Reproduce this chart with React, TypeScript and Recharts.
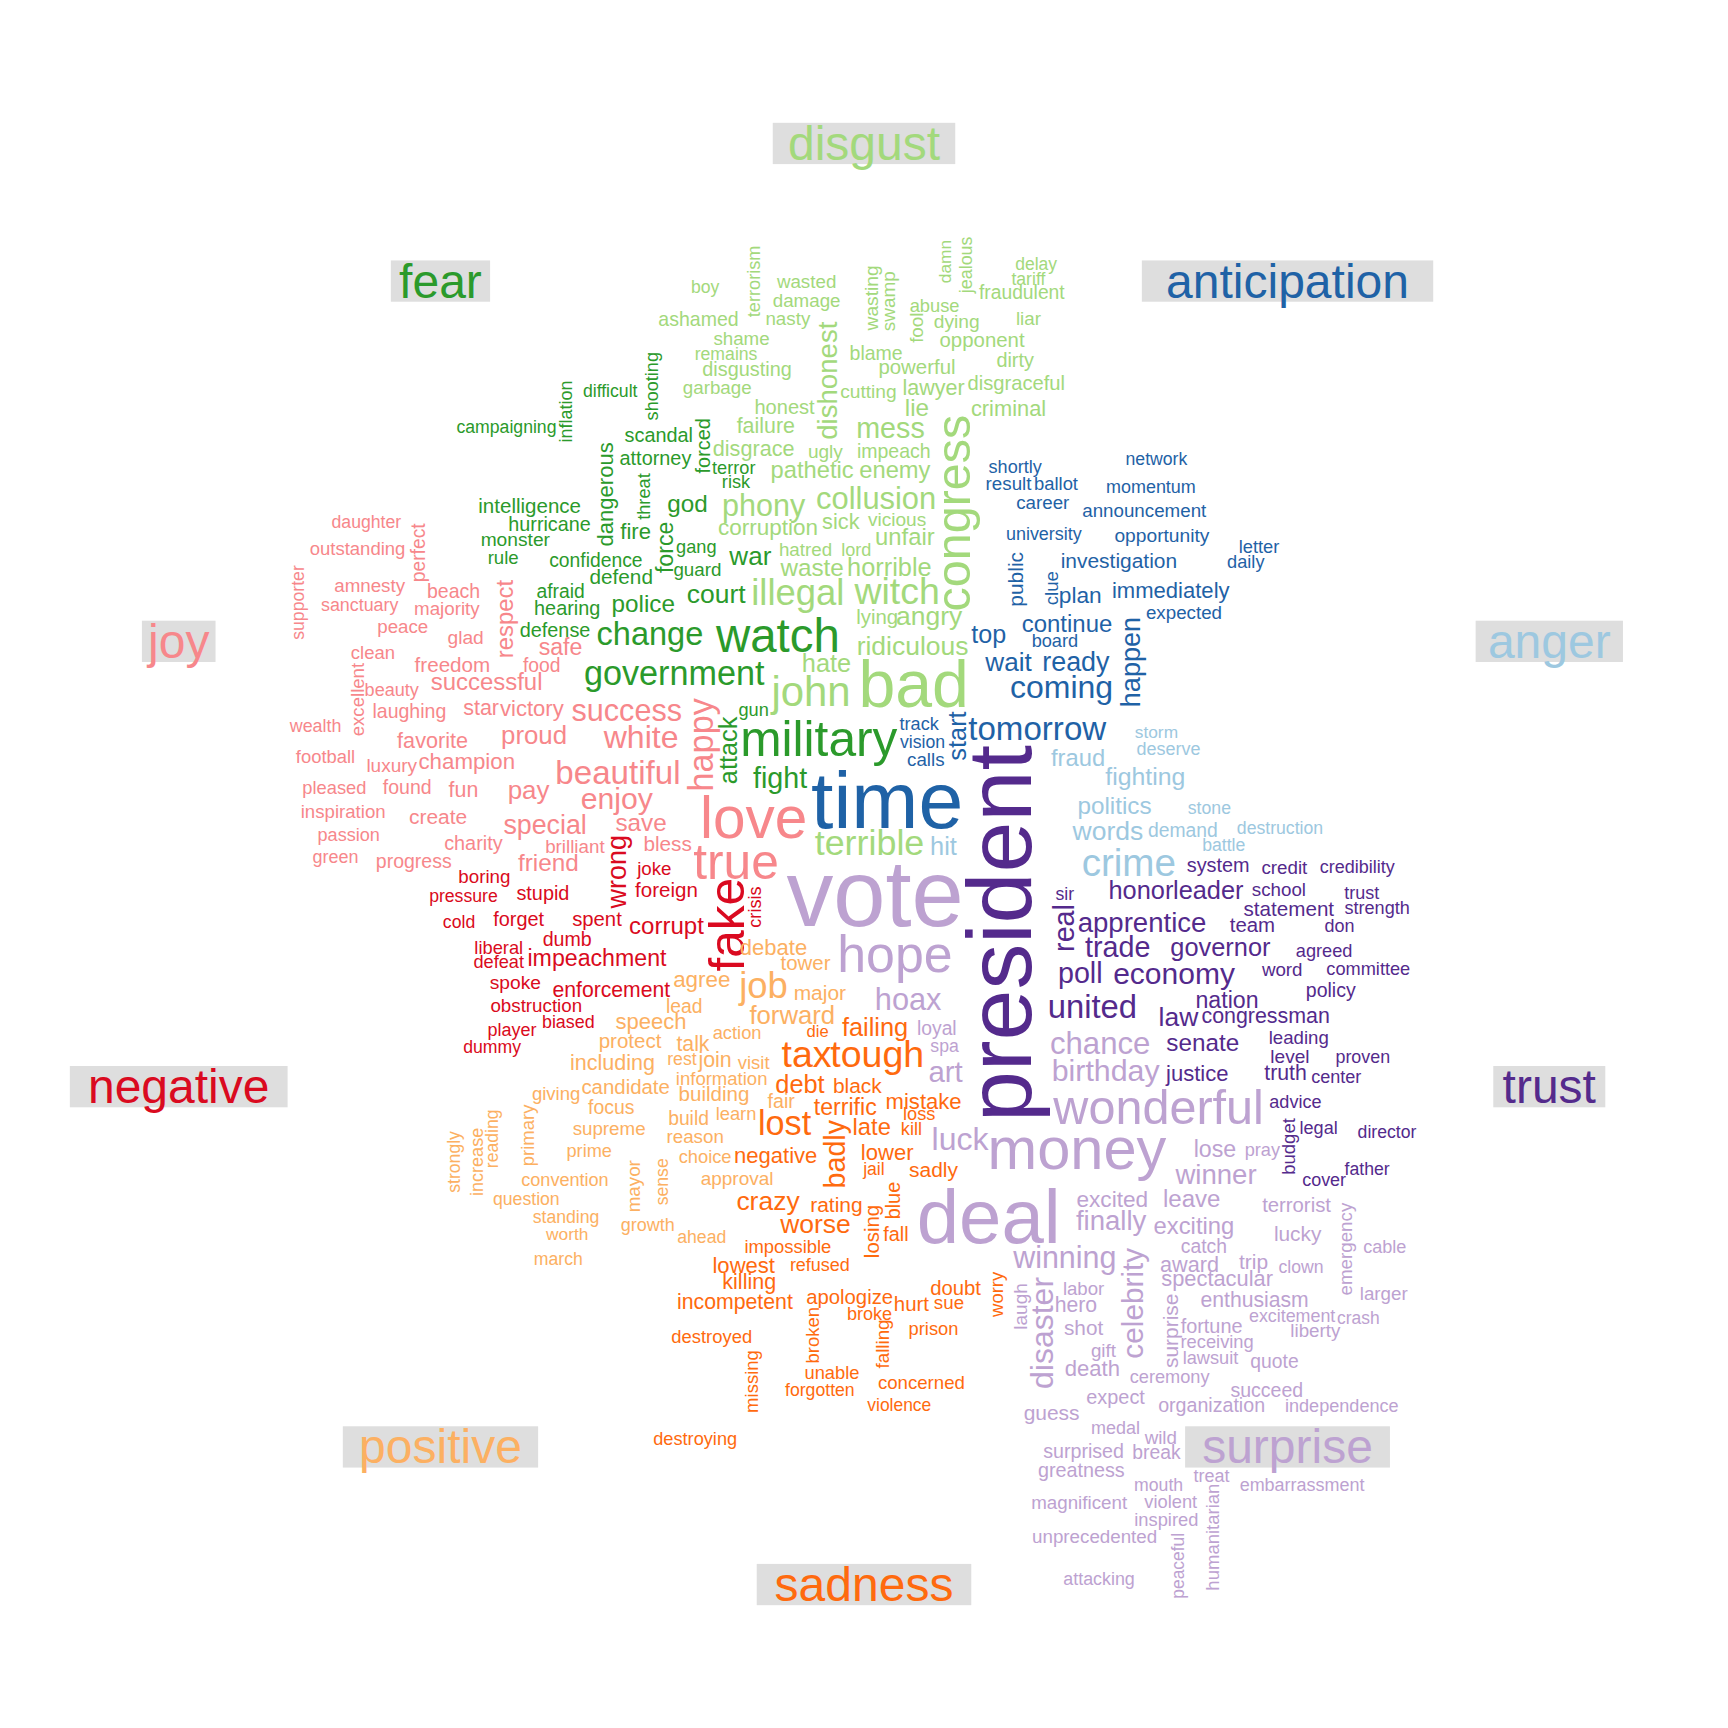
import { ScatterChart, Scatter, XAxis, YAxis } from 'recharts';

// chart is drawn on a 1728px canvas, values were read in a 1566-unit frame
const SIZE = 1728;
const VIEW = 1566;
const K = SIZE / VIEW;
const FONT = '"Liberation Sans", Arial, sans-serif';

// [word, x, y, weight, vertical?]
type W = [string, number, number, number, number?];

const categories = ['anger', 'anticipation', 'disgust', 'fear', 'joy', 'negative', 'positive', 'sadness', 'surprise', 'trust'];
const colors = ['#9DC8E0', '#1F62A6', '#A3D97C', '#2B9A2B', '#F7878B', '#DA0A20', '#FCB062', '#FF6A0E', '#BDA2D1', '#542A8C'];

const anger: W[] = [
  ['storm', 1048, 663, 15.7], ['deserve', 1059, 679, 16.3], ['fraud', 977, 687, 21.5],
  ['fighting', 1038, 704, 22.5], ['politics', 1010, 730, 22], ['stone', 1096, 732, 16],
  ['words', 1004, 753, 24], ['demand', 1072, 753, 17.5], ['destruction', 1160, 750, 16],
  ['battle', 1109, 766, 16], ['crime', 1023, 782, 35], ['hit', 855, 767, 23],
];

const anticipation: W[] = [
  ['network', 1048, 416, 16], ['momentum', 1043, 441, 16.3], ['announcement', 1037, 463, 17],
  ['shortly', 920, 423, 16.4], ['result', 914, 438, 17], ['ballot', 957, 438, 16.7],
  ['career', 945, 455, 17], ['university', 946, 484, 16.3], ['opportunity', 1053, 485, 17.4],
  ['letter', 1141, 495, 16.6], ['daily', 1129, 509, 16.5], ['investigation', 1014, 508, 19],
  ['public', 920, 525, 19, 1], ['clue', 953, 533, 17, 1], ['plan', 979, 539, 20.6],
  ['immediately', 1061, 535, 20], ['expected', 1073, 555, 17], ['continue', 967, 565, 21.7],
  ['happen', 1025, 600, 24.5, 1], ['top', 896, 575, 22.8], ['board', 956, 581, 16.5],
  ['wait', 914, 600, 23.7], ['ready', 975, 600, 24.4], ['coming', 962, 623, 29],
  ['tomorrow', 940, 660, 30], ['track', 833, 656, 16.4], ['vision', 836, 672, 16],
  ['calls', 839, 688, 17], ['start', 867, 667, 23, 1], ['time', 804, 725, 73],
];

const disgust: W[] = [
  ['boy', 639, 260, 16], ['terrorism', 683, 255, 16.5, 1], ['wasted', 731, 255, 17],
  ['damage', 731, 272, 17], ['ashamed', 633, 289, 17.7], ['nasty', 714, 289, 17],
  ['shame', 672, 307, 17], ['remains', 658, 321, 16], ['disgusting', 677, 334, 18],
  ['garbage', 650, 351, 17], ['wasting', 790, 270, 17.4, 1], ['swamp', 805, 273, 17.2, 1],
  ['damn', 856, 237, 15.7, 1], ['jealous', 875, 240, 16.2, 1], ['delay', 939, 239, 15.9],
  ['tariff', 932, 253, 16], ['fraudulent', 926, 265, 17.5], ['abuse', 847, 277, 16.6],
  ['dying', 867, 291, 17.4], ['fool', 831, 297, 17, 1], ['liar', 932, 289, 17],
  ['opponent', 890, 308, 18.5], ['blame', 794, 320, 17.7], ['dirty', 920, 326, 18],
  ['powerful', 831, 333, 18.5], ['lawyer', 846, 352, 19.5], ['disgraceful', 921, 347, 18.3],
  ['cutting', 787, 355, 17.4], ['honest', 711, 369, 18.2], ['lie', 831, 369, 22],
  ['criminal', 914, 370, 19.8], ['dishonest', 750, 345, 25, 1], ['failure', 694, 386, 19.4],
  ['mess', 807, 388, 26], ['disgrace', 683, 406, 19.6], ['ugly', 748, 409, 17.3],
  ['impeach', 810, 409, 17.7], ['pathetic', 736, 426, 21.5], ['enemy', 811, 426, 21.5],
  ['congress', 864, 465, 44, 1], ['phony', 692, 458, 27.7], ['collusion', 794, 452, 28],
  ['corruption', 696, 478, 20.4], ['sick', 762, 473, 19.7], ['vicious', 813, 471, 17.3],
  ['unfair', 820, 486, 21.6], ['hatred', 730, 498, 17], ['lord', 776, 498, 16.4],
  ['waste', 736, 514, 22], ['horrible', 806, 514, 23], ['illegal', 723, 537, 33],
  ['witch', 813, 536, 34], ['lying', 795, 559, 18.5], ['angry', 842, 558, 24],
  ['ridiculous', 827, 585, 24], ['hate', 749, 601, 23], ['john', 735, 627, 38],
  ['bad', 828, 620, 60], ['terrible', 788, 764, 32.5],
];

const fear: W[] = [
  ['campaigning', 459, 387, 16], ['inflation', 513, 373, 16.3, 1], ['difficult', 553, 354, 16],
  ['shooting', 591, 350, 16.4, 1], ['scandal', 597, 394, 18], ['attorney', 594, 415, 18],
  ['forced', 637, 404, 18, 1], ['terror', 665, 424, 16.5], ['risk', 667, 437, 16.5],
  ['dangerous', 549, 448, 20, 1], ['threat', 584, 450, 16.5, 1], ['intelligence', 480, 458, 18.6],
  ['god', 623, 456, 22], ['hurricane', 498, 475, 17.9], ['fire', 576, 482, 20],
  ['monster', 467, 489, 17.4], ['rule', 456, 505, 16.9], ['gang', 631, 496, 16.5],
  ['force', 603, 496, 21, 1], ['confidence', 540, 508, 17.5], ['guard', 632, 516, 17],
  ['war', 680, 504, 23.6], ['afraid', 508, 536, 17.5], ['defend', 563, 522, 18.8],
  ['hearing', 514, 551, 18], ['police', 583, 547, 22], ['court', 649, 538, 24],
  ['defense', 503, 571, 18], ['change', 589, 575, 29.5], ['watch', 705, 576, 43],
  ['government', 611, 610, 31], ['gun', 683, 643, 16.5], ['military', 742, 670, 45],
  ['attack', 660, 680, 23, 1], ['fight', 707, 705, 26],
];

const joy: W[] = [
  ['daughter', 332, 473, 16], ['outstanding', 324, 497, 16.8], ['perfect', 379, 501, 17.5, 1],
  ['supporter', 270, 546, 16, 1], ['amnesty', 335, 531, 17], ['sanctuary', 326, 548, 16.2],
  ['beach', 411, 536, 17.7], ['majority', 405, 551, 17], ['respect', 457, 561, 21.7, 1],
  ['peace', 365, 568, 17], ['glad', 422, 578, 17.4], ['clean', 338, 591, 16.8],
  ['safe', 508, 586, 21], ['freedom', 410, 602, 18.7], ['food', 491, 603, 17.5],
  ['excellent', 324, 634, 16.9, 1], ['beauty', 355, 625, 16.4], ['successful', 441, 618, 21.7],
  ['laughing', 371, 644, 17.7], ['star', 436, 642, 19.5], ['victory', 482, 642, 20],
  ['success', 568, 643, 27.7], ['wealth', 286, 658, 16.2], ['favorite', 392, 671, 19.6],
  ['proud', 484, 666, 23.4], ['white', 581, 668, 29], ['happy', 635, 675, 31, 1],
  ['football', 295, 686, 16.7], ['luxury', 355, 694, 17.2], ['champion', 423, 690, 20.2],
  ['beautiful', 560, 700, 30], ['pleased', 303, 714, 16.6], ['found', 369, 713, 17.7],
  ['fun', 420, 716, 19.4], ['pay', 479, 716, 23.5], ['enjoy', 559, 724, 27.4],
  ['inspiration', 311, 735, 16.9], ['create', 397, 740, 19], ['love', 683, 741, 53],
  ['special', 494, 748, 24.3], ['save', 581, 745, 22], ['passion', 316, 757, 16.4],
  ['charity', 429, 764, 18], ['bless', 605, 764, 18.8], ['brilliant', 521, 767, 17],
  ['green', 304, 777, 16.3], ['progress', 375, 780, 17.7], ['friend', 497, 782, 22],
  ['true', 667, 781, 45],
];

const negative: W[] = [
  ['wrong', 559, 790, 24.4, 1], ['joke', 593, 787, 17], ['foreign', 604, 806, 18.6],
  ['boring', 439, 794, 17], ['pressure', 420, 812, 16], ['stupid', 492, 809, 18],
  ['cold', 416, 836, 16], ['forget', 470, 833, 18], ['spent', 541, 833, 18.4],
  ['corrupt', 604, 839, 21.8], ['crisis', 684, 822, 16.5, 1], ['fake', 659, 838, 45, 1],
  ['dumb', 514, 851, 17.8], ['liberal', 452, 859, 16.6], ['defeat', 452, 872, 16.5],
  ['impeachment', 541, 868, 21], ['spoke', 467, 890, 17.4], ['enforcement', 554, 897, 19.2],
  ['obstruction', 486, 911, 17], ['player', 464, 933, 16.3], ['biased', 515, 926, 16.2],
  ['dummy', 446, 949, 16],
];

const positive: W[] = [
  ['debate', 701, 859, 20], ['tower', 730, 873, 18.5], ['agree', 636, 888, 20.3],
  ['job', 692, 893, 33], ['major', 743, 899, 19], ['lead', 620, 912, 17.5],
  ['forward', 718, 920, 23.3], ['speech', 590, 926, 20], ['action', 668, 936, 16.6],
  ['protect', 571, 943, 18.6], ['talk', 628, 946, 19.3], ['including', 555, 963, 19.5],
  ['rest', 618, 960, 16], ['join', 648, 961, 19.4], ['visit', 683, 963, 16.7],
  ['information', 654, 977, 16.8], ['candidate', 567, 985, 18.5], ['building', 647, 991, 18.6],
  ['giving', 504, 991, 16.8], ['fair', 708, 998, 17.8], ['focus', 554, 1003, 17.6],
  ['learn', 667, 1009, 16.6], ['build', 624, 1014, 17.5], ['supreme', 552, 1023, 17],
  ['reason', 630, 1030, 17], ['primary', 478, 1029, 16.8, 1], ['reading', 446, 1032, 16, 1],
  ['increase', 432, 1053, 16.4, 1], ['strongly', 411, 1053, 16, 1], ['choice', 639, 1048, 16.6],
  ['prime', 534, 1043, 16.5], ['approval', 668, 1068, 17.2], ['mayor', 574, 1075, 17, 1],
  ['sense', 600, 1071, 16, 1], ['convention', 512, 1069, 16.4], ['question', 477, 1087, 16],
  ['standing', 513, 1103, 16], ['worth', 514, 1118, 15.7], ['growth', 587, 1110, 16.3],
  ['ahead', 636, 1121, 16], ['march', 506, 1141, 16],
];

const sadness: W[] = [
  ['failing', 793, 931, 23], ['die', 741, 935, 15], ['tax', 731, 955, 34],
  ['tough', 795, 955, 34], ['debt', 725, 982, 23], ['black', 777, 984, 19],
  ['terrific', 766, 1003, 21], ['mistake', 837, 998, 20], ['loss', 833, 1010, 16.5],
  ['kill', 826, 1023, 16.5], ['lost', 711, 1018, 31], ['late', 790, 1021, 21.5],
  ['badly', 757, 1046, 26, 1], ['lower', 804, 1044, 20], ['jail', 792, 1059, 16],
  ['sadly', 846, 1060, 19], ['negative', 703, 1047, 20], ['crazy', 696, 1088, 24],
  ['rating', 758, 1092, 19], ['blue', 809, 1088, 18, 1], ['losing', 790, 1116, 18.5, 1],
  ['fall', 812, 1118, 18], ['worse', 739, 1109, 24], ['impossible', 714, 1130, 16.7],
  ['refused', 743, 1146, 16.3], ['lowest', 674, 1147, 20], ['killing', 679, 1162, 19.5],
  ['incompetent', 666, 1180, 19.3], ['apologize', 770, 1175, 18.4], ['hurt', 826, 1182, 18.5],
  ['doubt', 866, 1167, 18.4], ['sue', 860, 1180, 17], ['broke', 788, 1191, 16.4],
  ['worry', 903, 1173, 16.8, 1], ['prison', 846, 1204, 16.6], ['destroyed', 645, 1211, 16.7],
  ['broken', 736, 1210, 16.8, 1], ['falling', 800, 1218, 17, 1], ['missing', 681, 1252, 16.8, 1],
  ['unable', 754, 1244, 16.6], ['forgotten', 743, 1260, 16], ['concerned', 835, 1253, 16.9],
  ['violence', 815, 1273, 15.8], ['destroying', 630, 1304, 16.5],
];

const surprise: W[] = [
  ['vote', 793, 810, 85], ['hope', 811, 865, 47], ['hoax', 823, 906, 27.9],
  ['loyal', 849, 932, 17.5], ['spa', 856, 948, 16], ['art', 857, 971, 26.6],
  ['luck', 870, 1032, 29], ['deal', 896, 1102, 69], ['money', 976, 1041, 54],
  ['wonderful', 1050, 1003, 44], ['chance', 997, 946, 28.2], ['birthday', 1002, 970, 27.5],
  ['lose', 1101, 1041, 21], ['pray', 1144, 1042, 16.5], ['winner', 1102, 1064, 25],
  ['excited', 1008, 1087, 20.5], ['leave', 1080, 1086, 21.8], ['finally', 1007, 1106, 25],
  ['exciting', 1082, 1111, 21.6], ['terrorist', 1175, 1092, 18.4], ['lucky', 1176, 1118, 18.9],
  ['emergency', 1219, 1132, 17, 1], ['cable', 1255, 1130, 16.4], ['catch', 1091, 1130, 17.5],
  ['award', 1078, 1146, 19.6], ['trip', 1136, 1143, 19], ['clown', 1179, 1148, 16],
  ['spectacular', 1103, 1159, 19.8], ['larger', 1254, 1172, 17], ['enthusiasm', 1137, 1178, 19.2],
  ['excitement', 1171, 1193, 16.2], ['crash', 1231, 1194, 15.8], ['liberty', 1192, 1206, 17],
  ['fortune', 1098, 1202, 18], ['receiving', 1103, 1216, 16.6], ['lawsuit', 1097, 1231, 16.5],
  ['quote', 1155, 1234, 17.5], ['ceremony', 1060, 1248, 16.5], ['succeed', 1148, 1260, 17.7],
  ['organization', 1098, 1273, 17.8], ['independence', 1216, 1274, 16.4], ['winning', 965, 1139, 27.6],
  ['celebrity', 1026, 1181, 27, 1], ['laugh', 925, 1184, 17.3, 1], ['disaster', 944, 1208, 29, 1],
  ['labor', 982, 1168, 16.9], ['hero', 975, 1182, 19.2], ['shot', 982, 1203, 18.8],
  ['gift', 1000, 1224, 17], ['death', 990, 1240, 20], ['surprise', 1061, 1206, 19, 1],
  ['expect', 1011, 1266, 18], ['guess', 953, 1280, 19], ['medal', 1011, 1294, 16.3],
  ['wild', 1052, 1303, 17], ['surprised', 982, 1315, 17.8], ['break', 1048, 1316, 17.5],
  ['greatness', 980, 1332, 17.9], ['treat', 1098, 1338, 16.3], ['embarrassment', 1180, 1346, 16.3],
  ['mouth', 1050, 1346, 16], ['magnificent', 978, 1362, 17], ['violent', 1061, 1361, 16.6],
  ['inspired', 1057, 1377, 16.6], ['unprecedented', 992, 1392, 17], ['peaceful', 1068, 1419, 15.8, 1],
  ['humanitarian', 1099, 1393, 16.8, 1], ['attacking', 996, 1431, 16.2],
];

const trust: W[] = [
  ['president', 905, 846, 83, 1], ['sir', 965, 810, 16], ['real', 964, 841, 26, 1],
  ['system', 1104, 784, 18], ['credit', 1164, 786, 17], ['credibility', 1230, 786, 16.3],
  ['honor', 1034, 807, 23], ['leader', 1095, 807, 23], ['school', 1159, 806, 17],
  ['trust', 1234, 809, 16.3], ['statement', 1168, 823, 18.7], ['strength', 1248, 823, 16.4],
  ['apprentice', 1035, 836, 25], ['team', 1135, 838, 18.5], ['don', 1214, 839, 16.3],
  ['trade', 1013, 858, 26], ['governor', 1106, 858, 23], ['agreed', 1200, 862, 16.5],
  ['poll', 979, 882, 26], ['economy', 1064, 882, 27.2], ['word', 1162, 879, 17],
  ['committee', 1240, 878, 16.5], ['policy', 1206, 897, 17.7], ['united', 990, 912, 29.7],
  ['nation', 1112, 906, 21], ['law', 1068, 922, 24], ['congressman', 1147, 921, 19.4],
  ['leading', 1177, 940, 16.9], ['senate', 1090, 945, 22], ['level', 1169, 957, 17.3],
  ['proven', 1235, 958, 16.2], ['justice', 1085, 973, 20], ['truth', 1165, 972, 19.3],
  ['center', 1211, 976, 16.4], ['advice', 1174, 999, 16.4], ['legal', 1195, 1022, 16.4],
  ['director', 1257, 1026, 16], ['budget', 1168, 1039, 16.8, 1], ['father', 1239, 1059, 16],
  ['cover', 1200, 1069, 16.3],
];

const groups = [anger, anticipation, disgust, fear, joy, negative, positive, sadness, surprise, trust];

// category titles sit on a ring round the cloud
const CENTER = 783;
const RING = 653;
const TITLE = 43.5;

const toRows = (list: W[]) =>
  list.map(([word, x, y, freq, vert]) => ({ word, x, y, freq, vert: vert ? 1 : 0 }));

const titleRows = categories.map((word, i) => {
  const t = Math.PI / 10 + (i * Math.PI) / 5;
  return { word, i, x: CENTER + RING * Math.cos(t), y: CENTER - RING * Math.sin(t) };
});

let ctx: CanvasRenderingContext2D | null = null;
const textWidth = (s: string, fs: number) => {
  if (!ctx) ctx = document.createElement('canvas').getContext('2d');
  if (!ctx) return s.length * fs * 0.5;
  ctx.font = `${fs}px "Liberation Sans"`;
  return ctx.measureText(s).width;
};

const wordShape = (color: string) => (props: any) => {
  const { cx, cy, payload } = props;
  return (
    <text
      x={cx}
      y={cy}
      fill={color}
      fontSize={payload.freq * K}
      fontFamily={FONT}
      textAnchor="middle"
      dominantBaseline="central"
      transform={payload.vert ? `rotate(-90 ${cx} ${cy})` : undefined}
    >
      {payload.word}
    </text>
  );
};

const titleShape = (props: any) => {
  const { cx, cy, payload } = props;
  const fs = TITLE * K;
  const w = textWidth(payload.word, fs) * 1.2;
  const h = fs * 0.86;
  return (
    <g>
      <rect x={cx - w / 2} y={cy - h / 2} width={w} height={h} fill="#DEDEDE" />
      <text x={cx} y={cy} fill={colors[payload.i]} fontSize={fs} fontFamily={FONT} textAnchor="middle" dominantBaseline="central">
        {payload.word}
      </text>
    </g>
  );
};

export default function App() {
  return (
    <div style={{ position: 'absolute', left: 0, top: 0, width: SIZE, height: SIZE, background: '#fff' }}>
      <ScatterChart width={SIZE} height={SIZE} margin={{ top: 0, right: 0, bottom: 0, left: 0 }}>
        <XAxis type="number" dataKey="x" domain={[0, VIEW]} hide />
        <YAxis type="number" dataKey="y" domain={[0, VIEW]} reversed hide />
        {groups.map((g, i) => (
          <Scatter key={categories[i]} name={categories[i]} data={toRows(g)} shape={wordShape(colors[i])} isAnimationActive={false} />
        ))}
        <Scatter name="titles" data={titleRows} shape={titleShape} isAnimationActive={false} />
      </ScatterChart>
    </div>
  );
}
